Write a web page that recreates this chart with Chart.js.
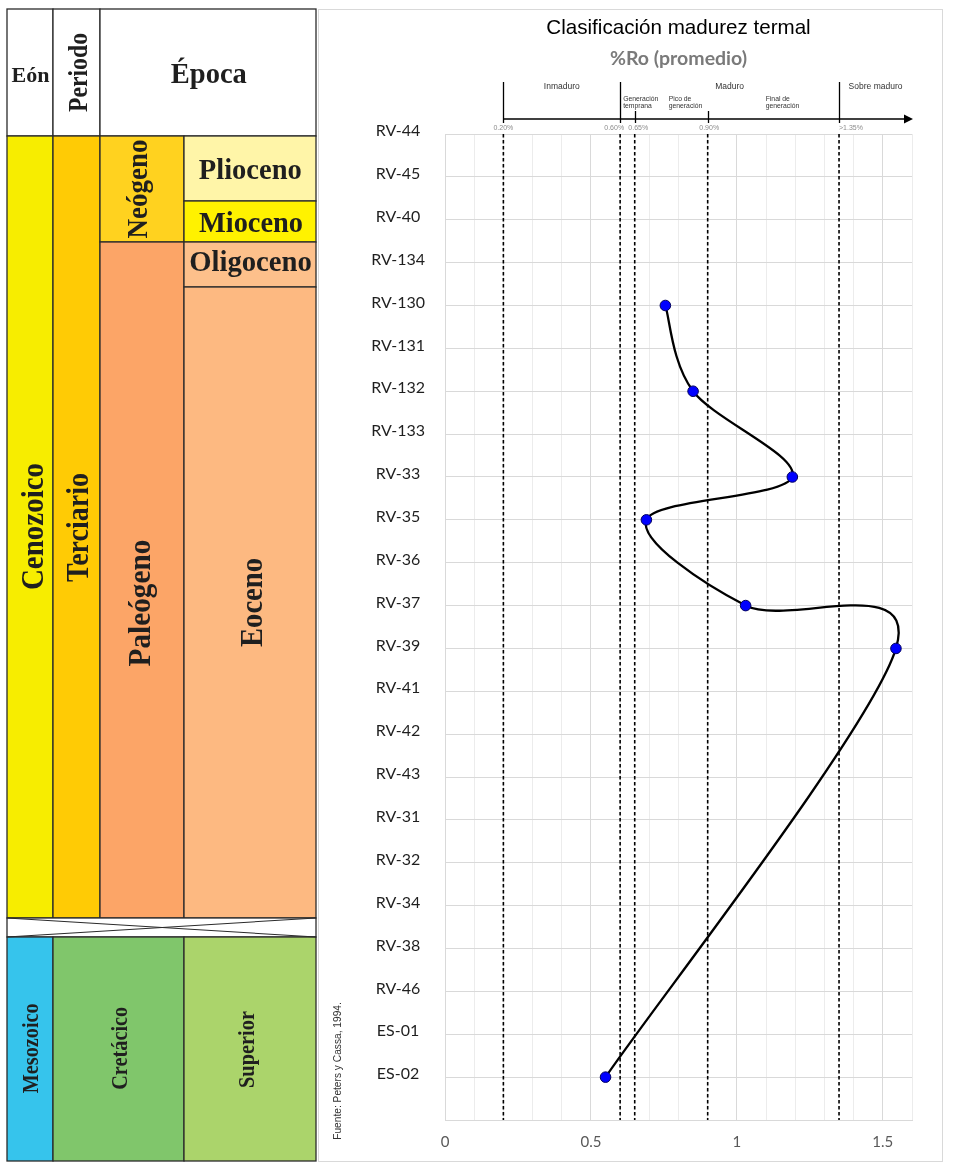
<!DOCTYPE html>
<html lang="es">
<head>
<meta charset="utf-8">
<title>Clasificación madurez termal</title>
<script src="https://cdn.jsdelivr.net/npm/chart.js@4.4.1/dist/chart.umd.min.js"></script>
<style>
  html, body { margin: 0; padding: 0; background: #fff; }
  #page { position: relative; width: 955px; height: 1175px; overflow: hidden; }
  #chartBox { position: absolute; left: 318px; top: 9px; width: 625px; height: 1153px; box-sizing: border-box; border: 1px solid #d9d9d9; }
  #chartWrap { position: absolute; left: 318px; top: 9px; width: 625px; height: 1153px; }
  #strat { position: absolute; left: 0; top: 0; }
  #strat text { font-family: "Liberation Serif", "Times New Roman", serif; font-weight: bold; fill: #1f1f1f; }
  #strat text.src { font-family: "Liberation Sans", Arial, sans-serif; font-weight: normal; fill: #333; }
</style>
</head>
<body>
<div id="page">
  <div id="chartBox"></div>
  <div id="chartWrap"><canvas id="roChart" width="625" height="1153"></canvas></div>

  <!-- columna estratigrafica -->
  <svg id="strat" width="350" height="1175" xmlns="http://www.w3.org/2000/svg">
    <g stroke="#2b2b2b" stroke-width="1.3">
      <rect x="7" y="9" width="46" height="127" fill="#fff"/>
      <rect x="53" y="9" width="47" height="127" fill="#fff"/>
      <rect x="100" y="9" width="216" height="127" fill="#fff"/>
      <rect x="7" y="136" width="46" height="782" fill="#f7ed00"/>
      <rect x="53" y="136" width="47" height="782" fill="#ffcb05"/>
      <rect x="100" y="136" width="84" height="106" fill="#ffd21f"/>
      <rect x="184" y="136" width="132" height="65" fill="#fff5a8"/>
      <rect x="184" y="201" width="132" height="41" fill="#fff200"/>
      <rect x="100" y="242" width="84" height="676" fill="#fca567"/>
      <rect x="184" y="242" width="132" height="45" fill="#fdc08b"/>
      <rect x="184" y="287" width="132" height="631" fill="#fdb981"/>
      <rect x="7" y="918" width="309" height="19" fill="#fff"/>
      <rect x="7" y="937" width="46" height="224" fill="#36c4ec"/>
      <rect x="53" y="937" width="131" height="224" fill="#80c66b"/>
      <rect x="184" y="937" width="132" height="224" fill="#abd46b"/>
    </g>
    <g stroke="#2b2b2b" stroke-width="1.1">
      <line x1="7" y1="918" x2="316" y2="937"/>
      <line x1="7" y1="937" x2="316" y2="918"/>
    </g>

    <text x="30.5" y="81.7" font-size="22" text-anchor="middle">Eón</text>
    <text x="208.8" y="82.7" font-size="28.5" text-anchor="middle">Época</text>
    <text x="250.3" y="179" font-size="28.5" text-anchor="middle">Plioceno</text>
    <text x="251" y="232" font-size="28.4" text-anchor="middle">Mioceno</text>
    <text x="250.5" y="271" font-size="28.7" text-anchor="middle">Oligoceno</text>

    <text transform="translate(87,72.5) rotate(-90) scale(1,1.12)" font-size="23.7" text-anchor="middle">Periodo</text>
    <text transform="translate(147,189) rotate(-90) scale(1,1.1)" font-size="27" text-anchor="middle">Neógeno</text>
    <text transform="translate(42.5,526.5) rotate(-90) scale(1,1.12)" font-size="29" text-anchor="middle">Cenozoico</text>
    <text transform="translate(88,527.5) rotate(-90) scale(1,1.12)" font-size="28" text-anchor="middle">Terciario</text>
    <text transform="translate(150,603) rotate(-90) scale(1,1.07)" font-size="29.3" text-anchor="middle">Paleógeno</text>
    <text transform="translate(261.5,602.5) rotate(-90) scale(1,1.1)" font-size="28.6" text-anchor="middle">Eoceno</text>
    <text transform="translate(38.3,1048.3) rotate(-90) scale(1,1.1)" font-size="20.3" text-anchor="middle">Mesozoico</text>
    <text transform="translate(126.7,1048.3) rotate(-90) scale(1,1.1)" font-size="20.3" text-anchor="middle">Cretácico</text>
    <text transform="translate(254,1049.5) rotate(-90) scale(1,1.1)" font-size="20.4" text-anchor="middle">Superior</text>

    <text class="src" transform="translate(341,1071) rotate(-90)" font-size="10.2" text-anchor="middle">Fuente: Peters y Cassa, 1994.</text>
  </svg>
</div>

<script>
// pozos en el eje vertical, de arriba hacia abajo
const wells = ['RV-44', 'RV-45', 'RV-40', 'RV-134', 'RV-130', 'RV-131', 'RV-132', 'RV-133',
               'RV-33', 'RV-35', 'RV-36', 'RV-37', 'RV-39', 'RV-41', 'RV-42', 'RV-43',
               'RV-31', 'RV-32', 'RV-34', 'RV-38', 'RV-46', 'ES-01', 'ES-02'];

// pozos con medicion de %Ro (promedio)
const sampledWells = ['RV-130', 'RV-132', 'RV-33', 'RV-35', 'RV-37', 'RV-39', 'ES-02'];
const roAverage = [0.755, 0.85, 1.19, 0.69, 1.03, 1.545, 0.55];

// limites de madurez termal (%Ro)
const stageBounds = [0.2, 0.6, 0.65, 0.9, 1.35];
const stageBoundLabels = ['0.20%', '0.60%', '0.65%', '0.90%', '>1.35%'];
const mainStages = ['Inmaduro', 'Maduro', 'Sobre maduro'];
const mainStageRanges = [[0.2, 0.6], [0.6, 1.35], [1.35, 1.6]];
const subStages = [['Generación', 'temprana'], ['Pico de', 'generación'], ['Final de', 'generación']];
const subStageStart = [0.6, 0.65, 0.9];

const xMin = 0, xMax = 1.6, xStep = 0.1;

const PLOT_LEFT = 127, PLOT_BOTTOM_GAP = 42;

const roPoints = sampledWells.map((w, i) => ({ x: roAverage[i], y: wells.indexOf(w) }));

const boundDatasets = stageBounds.map(b => ({
    data: [{ x: b, y: 0 }, { x: b, y: wells.length }],
    borderColor: '#000',
    borderWidth: 1.6,
    borderDash: [3.5, 2.5],
    pointRadius: 0,
    tension: 0,
    order: 1
}));

// suavizado tipo Excel (Catmull-Rom, 1/6)
const excelSmooth = {
    id: 'excelSmooth',
    beforeDatasetDraw(chart, args) {
        if (args.index !== 0) return;
        const meta = args.meta;
        const pts = meta.data;
        if (meta.dataset.updateControlPoints) meta.dataset.updateControlPoints(chart.chartArea, meta.iScale.axis);
        pts.forEach((p, i) => {
            const prev = pts[i - 1] || p;
            const next = pts[i + 1] || p;
            const dx = (next.x - prev.x) / 6;
            const dy = (next.y - prev.y) / 6;
            p.cp1x = p.x - dx; p.cp1y = p.y - dy;
            p.cp2x = p.x + dx; p.cp2y = p.y + dy;
        });
        meta.dataset._path = undefined;
    }
};

// escala de clasificacion sobre el grafico
const maturityScale = {
    id: 'maturityScale',
    afterDraw(chart) {
        const { ctx, chartArea: area, scales: { x } } = chart;
        const top = area.top;
        const lineY = top - 15;
        const px = v => x.getPixelForValue(v);
        ctx.save();
        ctx.strokeStyle = '#000';
        ctx.fillStyle = '#000';
        ctx.lineWidth = 1.3;

        ctx.beginPath();
        ctx.moveTo(px(stageBounds[0]), lineY);
        ctx.lineTo(area.right - 6, lineY);
        ctx.stroke();
        ctx.beginPath();
        ctx.moveTo(area.right + 1, lineY);
        ctx.lineTo(area.right - 8, lineY - 4.5);
        ctx.lineTo(area.right - 8, lineY + 4.5);
        ctx.closePath();
        ctx.fill();

        const tall = [true, true, false, false, true];
        stageBounds.forEach((b, i) => {
            const xx = Math.round(px(b)) + 0.5;
            ctx.beginPath();
            ctx.moveTo(xx, tall[i] ? top - 52 : top - 23);
            ctx.lineTo(xx, top - 11);
            ctx.stroke();
        });

        // porcentajes
        ctx.font = '7px "Liberation Sans", Arial, sans-serif';
        ctx.fillStyle = '#8c8c8c';
        ctx.textBaseline = 'middle';
        const pctAlign = [['center', 0], ['right', 4], ['center', 3.5], ['center', 1.5], ['left', 0]];
        stageBoundLabels.forEach((t, i) => {
            ctx.textAlign = pctAlign[i][0];
            ctx.fillText(t, px(stageBounds[i]) + pctAlign[i][1], top - 5.5);
        });

        // etapas principales
        ctx.font = '8.5px "Liberation Sans", Arial, sans-serif';
        ctx.fillStyle = '#333';
        ctx.textAlign = 'center';
        mainStages.forEach((t, i) => {
            const r = mainStageRanges[i];
            ctx.fillText(t, (px(r[0]) + px(r[1])) / 2, top - 47);
        });

        // sub etapas
        ctx.font = '6.8px "Liberation Sans", Arial, sans-serif';
        ctx.textAlign = 'left';
        const subOffset = [3, 34, 58];
        subStages.forEach((lines, i) => {
            lines.forEach((t, j) => ctx.fillText(t, px(subStageStart[i]) + subOffset[i], top - 35 + j * 7));
        });
        ctx.restore();
    }
};

Chart.defaults.font.family = 'Lato, "Open Sans", sans-serif';

new Chart(document.getElementById('roChart'), {
    type: 'line',
    data: {
        datasets: [{
            data: roPoints,
            borderColor: '#000',
            borderWidth: 2.3,
            tension: 0.4,
            pointRadius: 5.3,
            pointBackgroundColor: '#0000ff',
            pointBorderColor: '#00005c',
            pointBorderWidth: 1,
            order: 0
        }, ...boundDatasets]
    },
    options: {
        responsive: false,
        animation: false,
        layout: { padding: { left: 0, right: 31, bottom: 0, top: 0 } },
        scales: {
            x: {
                type: 'linear',
                min: xMin,
                max: xMax,
                afterFit(scale) { scale.height = PLOT_BOTTOM_GAP; },
                ticks: {
                    stepSize: xStep,
                    autoSkip: false,
                    maxRotation: 0,
                    padding: 13,
                    color: '#595959',
                    font: { size: 15 },
                    callback: v => (Math.round(v * 10) % 5 === 0 ? String(+v.toFixed(1)) : '')
                },
                grid: {
                    drawTicks: false,
                    color: c => (Math.round(c.tick.value * 10) % 5 === 0 ? '#d9d9d9' : '#ececec')
                },
                border: { color: '#d9d9d9' }
            },
            y: {
                type: 'linear',
                reverse: true,
                min: 0,
                max: wells.length,
                afterFit(scale) { scale.width = PLOT_LEFT; },
                ticks: {
                    stepSize: 1,
                    autoSkip: false,
                    crossAlign: 'center',
                    padding: 20,
                    labelOffset: -3,
                    color: '#1f1f1f',
                    font: { size: 16 },
                    callback: v => wells[v] || ''
                },
                grid: { drawTicks: false, color: '#d9d9d9' },
                border: { color: '#d9d9d9' }
            }
        },
        plugins: {
            legend: { display: false },
            tooltip: { enabled: false },
            title: {
                display: true,
                fullSize: false,
                text: 'Clasificación madurez termal',
                color: '#000',
                font: { family: '"Liberation Sans", Arial, sans-serif', size: 20.6, weight: 'normal', lineHeight: 1.2 },
                padding: { top: 6.6, bottom: 0 }
            },
            subtitle: {
                display: true,
                fullSize: false,
                text: '%Ro (promedio)',
                color: '#7a7a7a',
                font: { size: 19.5, weight: 'bold', lineHeight: 1.2 },
                padding: { top: 7, bottom: 63.3 }
            }
        }
    },
    plugins: [excelSmooth, maturityScale]
});
</script>
</body>
</html>
